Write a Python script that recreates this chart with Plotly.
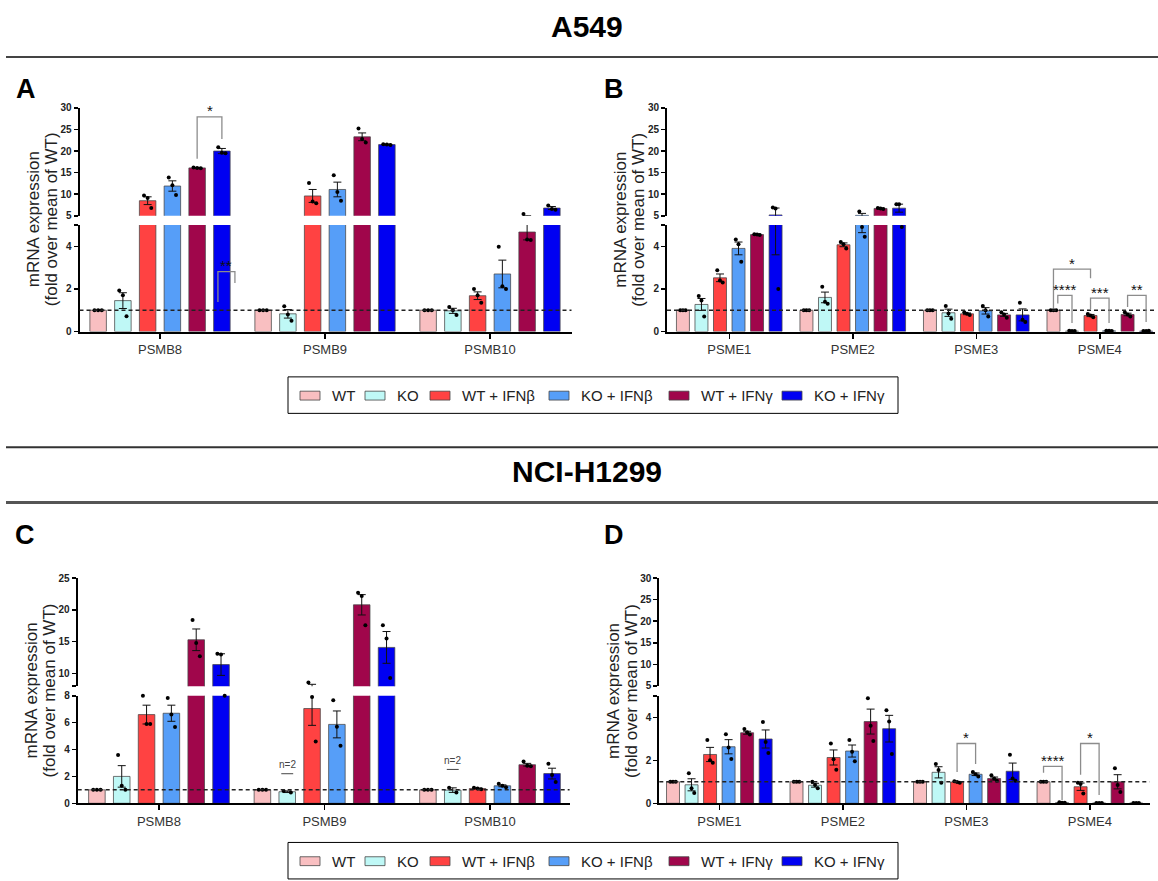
import plotly.graph_objects as go

W, H = 1158, 881
FONT = "Arial, Liberation Sans, Helvetica, sans-serif"

SERIES = ["WT", "KO", "WT + IFNβ", "KO + IFNβ", "WT + IFNγ", "KO + IFNγ"]
COLORS = ["#F9BFC1", "#BFF8F6", "#FF4242", "#569EF8", "#A0064B", "#0000F2"]

# ---------------- Panel A : A549, immunoproteasome ----------------
A_CATS = ["PSMB8", "PSMB9", "PSMB10"]
A_MEAN = [[1, 1, 1], [1.45, 0.83, 0.97], [8.5, 9.6, 1.68],
          [11.9, 11.1, 2.7], [16.1, 23.3, 4.67], [20.0, 21.5, 6.8]]
A_SEM = [[0, 0, 0], [0.37, 0.2, 0.12], [0.9, 1.5, 0.18],
         [1.2, 1.7, 0.65], [0.1, 0.9, 0.37], [0.6, 0.1, 0.35]]
A_PTS = [[[1, 1, 1], [1, 1, 1], [1, 1, 1]],
         [[1.93, 1.7, 0.72], [1.19, 0.8, 0.5], [1.15, 1.0, 0.78]],
         [[9.7, 9.1, 6.8], [12.6, 8.3, 7.9], [2.0, 1.7, 1.35]],
         [[13.85, 12.1, 9.8], [14.4, 10.5, 8.5], [3.98, 2.12, 2.0]],
         [[16.2, 16.1, 16.0], [25.2, 22.8, 22.0], [5.4, 4.32, 4.3]],
         [[20.9, 19.6, 19.5], [21.6, 21.5, 21.4], [7.4, 6.6, 6.4]]]

# ---------------- Panel B : A549, regulators ----------------
B_CATS = ["PSME1", "PSME2", "PSME3", "PSME4"]
B_MEAN = [[1, 1, 1, 1], [1.27, 1.6, 0.88, 0.02], [2.52, 4.07, 0.83, 0.75],
          [3.9, 5.1, 0.97, 0.03], [4.55, 6.7, 0.78, 0.8], [5.2, 6.77, 0.78, 0.02]]
B_SEM = [[0, 0, 0, 0], [0.28, 0.25, 0.17, 0.01], [0.18, 0.09, 0.04, 0.05],
         [0.3, 0.46, 0.15, 0.01], [0.02, 0.06, 0.07, 0.06], [1.6, 0.93, 0.28, 0.01]]
B_PTS = [[[1, 1, 1], [1, 1, 1], [1, 1, 1], [1, 1, 1]],
         [[1.67, 1.45, 0.7], [2.1, 1.4, 1.3], [1.2, 0.85, 0.6], [0.03, 0.02, 0.02]],
         [[2.88, 2.4, 2.3], [4.2, 4.1, 3.9], [0.9, 0.83, 0.77], [0.82, 0.75, 0.67]],
         [[4.32, 4.1, 3.27], [6.0, 4.9, 4.45], [1.2, 1.0, 0.7], [0.04, 0.03, 0.02]],
         [[4.57, 4.55, 4.53], [6.8, 6.7, 6.6], [0.9, 0.8, 0.65], [0.9, 0.8, 0.7]],
         [[6.9, 6.7, 2.0], [7.7, 7.7, 4.9], [1.35, 0.55, 0.45], [0.02, 0.02, 0.03]]]

# ---------------- Panel C : NCI-H1299, immunoproteasome ----------------
C_CATS = ["PSMB8", "PSMB9", "PSMB10"]
C_MEAN = [[1, 1, 1], [2.0, 0.86, 0.98], [6.6, 7.05, 1.1],
          [6.7, 5.87, 1.3], [15.3, 20.8, 2.87], [11.4, 14.1, 2.21]]
C_SEM = [[0, 0, 0], [0.8, 0.06, 0.17], [0.7, 1.25, 0.03],
         [0.6, 1.0, 0.07], [1.7, 1.6, 0.1], [1.7, 2.5, 0.4]]
C_PTS = [[[1, 1, 1], [1, 1, 1], [1, 1, 1]],
         [[3.6, 1.3, 1.0], [0.92, 0.8], [1.15, 0.8]],
         [[8.0, 5.9, 5.9], [8.6, 7.9, 4.6], [1.15, 1.1, 1.05]],
         [[7.83, 6.6, 5.68], [7.67, 5.7, 4.29], [1.45, 1.3, 1.2]],
         [[18.4, 14.8, 12.7], [22.7, 22.2, 17.6], [3.1, 2.8, 2.75]],
         [[13.1, 13.0, 8.0], [17.6, 15.5, 9.3], [2.94, 2.1, 1.59]]]

# ---------------- Panel D : NCI-H1299, regulators ----------------
D_CATS = ["PSME1", "PSME2", "PSME3", "PSME4"]
D_MEAN = [[1, 1, 1, 1], [0.86, 0.84, 1.44, 0.03], [2.27, 2.13, 0.99, 0.77],
          [2.63, 2.43, 1.35, 0.01], [3.28, 3.8, 1.15, 1.0], [2.99, 3.47, 1.49, 0.01]]
D_SEM = [[0, 0, 0, 0], [0.28, 0.09, 0.26, 0.01], [0.33, 0.35, 0.02, 0.17],
         [0.33, 0.28, 0.06, 0.005], [0.07, 0.58, 0.07, 0.33], [0.42, 0.62, 0.38, 0.005]]
D_PTS = [[[1, 1, 1], [1, 1, 1], [1, 1, 1], [1, 1, 1]],
         [[1.4, 0.7, 0.48], [1.0, 0.85, 0.7], [1.83, 1.55, 0.95], [0.05, 0.03, 0.02]],
         [[2.94, 2.0, 1.88], [2.78, 2.05, 1.56], [1.02, 0.99, 0.96], [0.95, 0.9, 0.46]],
         [[3.21, 2.6, 2.06], [2.94, 2.4, 1.95], [1.45, 1.35, 1.25], [0.01, 0.01, 0.01]],
         [[3.45, 3.3, 3.2], [4.89, 3.6, 2.9], [1.3, 1.15, 1.05], [1.63, 0.85, 0.53]],
         [[3.78, 2.85, 2.34], [4.33, 3.8, 2.29], [2.26, 1.15, 1.05], [0.01, 0.01, 0.01]]]

# significance brackets: (group, series_from, dx_from, series_to, dx_to, top, left_bottom, right_bottom, label, upper?)
A_SIG = [(0, 4, 0.0, 5, 0.0, 27.9, 18.2, 22.8, "*", True),
         (0, 5, -0.024, 5, 0.079, 2.81, 1.39, 2.28, "**", False)]
B_SIG = [(3, 0, 0.0, 2, 0.0, 2.93, 1.08, 2.5, "*", False),
         (3, 0, 0.035, 1, 0.0, 1.70, 1.32, 0.4, "****", False),
         (3, 2, 0.0, 3, 0.0, 1.57, 1.05, 0.4, "***", False),
         (3, 4, 0.0, 5, 0.0, 1.70, 1.15, 0.45, "**", False)]
C_SIG = []
D_SIG = [(2, 2, 0.0, 3, 0.0, 2.78, 1.45, 1.83, "*", False),
         (3, 0, 0.0, 1, 0.0, 1.72, 1.42, 0.15, "****", False),
         (3, 2, 0.0, 3, 0.0, 2.78, 1.33, 0.38, "*", False)]
# "n=2" notes in panel C: (group, series, line value, text value)
C_NOTES = [(1, 1, 2.2, 2.87), (2, 1, 2.52, 3.18)]

YLABEL1 = "mRNA expression"
YLABEL2 = "(fold over mean of WT)"

# ---------------- layout geometry (pixels) ----------------
PANELS = [
    dict(letter="A", cats=A_CATS, mean=A_MEAN, sem=A_SEM, pts=A_PTS, sig=A_SIG, notes=[],
         xpx=(79.5, 571.5), xr=(-0.488, 2.494), bw=0.10,
         lo_px=(330, 222), lo_r=(0, 5), lo_t=[0, 2, 4, 5], lo_l=["0", "2", "4", ""],
         hi_px=(212.7, 103.3), hi_r=(5, 30), hi_t=[5, 10, 15, 20, 25, 30],
         hi_l=["5", "10", "15", "20", "25", "30"], letter_xy=(26, 84)),
    dict(letter="B", cats=B_CATS, mean=B_MEAN, sem=B_SEM, pts=B_PTS, sig=B_SIG, notes=[],
         xpx=(667, 1155), xr=(-0.504, 3.447), bw=0.105,
         lo_px=(330, 222), lo_r=(0, 5), lo_t=[0, 2, 4, 5], lo_l=["0", "2", "4", ""],
         hi_px=(212.7, 103.3), hi_r=(5, 30), hi_t=[5, 10, 15, 20, 25, 30],
         hi_l=["5", "10", "15", "20", "25", "30"], letter_xy=(614, 84)),
    dict(letter="C", cats=C_CATS, mean=C_MEAN, sem=C_SEM, pts=C_PTS, sig=C_SIG, notes=C_NOTES,
         xpx=(77.7, 569.6), xr=(-0.491, 2.481), bw=0.10,
         lo_px=(808.3, 699.3), lo_r=(0, 8), lo_t=[0, 2, 4, 6, 8], lo_l=["0", "2", "4", "6", "8"],
         hi_px=(689.6, 580), hi_r=(8, 25), hi_t=[8, 10, 15, 20, 25],
         hi_l=["", "10", "15", "20", "25"], letter_xy=(25, 536)),
    dict(letter="D", cats=D_CATS, mean=D_MEAN, sem=D_SEM, pts=D_PTS, sig=D_SIG, notes=[],
         xpx=(659.3, 1149.5), xr=(-0.486, 3.483), bw=0.105,
         lo_px=(808.3, 699.3), lo_r=(0, 5), lo_t=[0, 2, 4, 5], lo_l=["0", "2", "4", ""],
         hi_px=(689.3, 580), hi_r=(5, 30), hi_t=[5, 10, 15, 20, 25, 30],
         hi_l=["5", "10", "15", "20", "25", "30"], letter_xy=(614, 536)),
]
STEP = 0.15  # distance between neighbouring bars, in category units


def px(x):
    return x / W


def py(y):
    return 1 - y / H


fig = go.Figure()
shapes, annos = [], []

for k, P in enumerate(PANELS):
    xid = "" if k == 0 else str(k + 1)
    xname = "x" + xid
    lo_i, hi_i = 2 * k + 1, 2 * k + 2
    yl = "y" if lo_i == 1 else "y%d" % lo_i
    yh = "y%d" % hi_i
    ng = len(P["cats"])
    split = P["lo_r"][1]

    def bx(g, s):
        return g + (s - 2.5) * STEP

    for s in range(6):
        xs = [bx(g, s) for g in range(ng)]
        for ya in (yl, yh):
            fig.add_trace(go.Bar(
                x=xs, y=P["mean"][s], width=P["bw"], xaxis=xname, yaxis=ya,
                marker=dict(color=COLORS[s], line=dict(color="rgba(70,70,70,0.75)", width=1)),
                error_y=dict(type="data", array=P["sem"][s], color="#111", thickness=1, width=4),
                showlegend=False, hoverinfo="skip", name=SERIES[s]))
        lo_x, lo_y, hi_x, hi_y = [], [], [], []
        for g in range(ng):
            vals = P["pts"][s][g]
            n = len(vals)
            offs = [(-0.022 + 0.044 * i / (n - 1)) if n > 1 else 0 for i in range(n)]
            for o, v in zip(offs, vals):
                if v <= split:
                    lo_x.append(bx(g, s) + o)
                    lo_y.append(v)
                else:
                    hi_x.append(bx(g, s) + o)
                    hi_y.append(v)
        for ya, xx, yy in ((yl, lo_x, lo_y), (yh, hi_x, hi_y)):
            fig.add_trace(go.Scatter(
                x=xx, y=yy, mode="markers", xaxis=xname, yaxis=ya, cliponaxis=False,
                marker=dict(color="black", size=4), showlegend=False, hoverinfo="skip"))

    axis_common = dict(showgrid=False, zeroline=False, showline=True, linecolor="black",
                       linewidth=2, ticks="outside", tickcolor="black", tickwidth=1.5,
                       fixedrange=True)
    fig.update_layout(**{
        "xaxis" + xid: dict(axis_common, domain=[px(P["xpx"][0]), px(P["xpx"][1])],
                            range=list(P["xr"]), anchor=yl, tickmode="array",
                            tickvals=list(range(ng)), ticktext=P["cats"], ticklen=5,
                            tickfont=dict(family=FONT, size=13, color="#333")),
        "yaxis" + ("" if lo_i == 1 else str(lo_i)): dict(
            axis_common, domain=[py(P["lo_px"][0]), py(P["lo_px"][1])],
            range=list(P["lo_r"]), anchor=xname, tickmode="array",
            tickvals=P["lo_t"], ticktext=P["lo_l"], ticklen=4,
            tickfont=dict(family=FONT, size=10, color="#222", weight="bold")),
        "yaxis" + str(hi_i): dict(
            axis_common, domain=[py(P["hi_px"][0]), py(P["hi_px"][1])],
            range=list(P["hi_r"]), anchor=xname, tickmode="array",
            tickvals=P["hi_t"], ticktext=P["hi_l"], ticklen=4,
            tickfont=dict(family=FONT, size=10, color="#222", weight="bold")),
    })

    # dashed reference line at 1
    shapes.append(dict(type="line", xref=xname + " domain", x0=0, x1=1, yref=yl, y0=1, y1=1,
                       line=dict(color="#222", width=1.5, dash="4px,3px"), layer="above"))

    # significance brackets
    for (g, s1, d1, s2, d2, top, lb, rb, lab, up) in P["sig"]:
        ya = yh if up else yl
        xa_, xb_ = bx(g, s1) + d1, bx(g, s2) + d2
        shapes.append(dict(type="path", xref=xname, yref=ya,
                           path="M %f,%f L %f,%f L %f,%f L %f,%f" % (xa_, lb, xa_, top, xb_, top, xb_, rb),
                           line=dict(color="#8c8c8c", width=1.3)))
        annos.append(dict(xref=xname, yref=ya, x=(xa_ + xb_) / 2, y=top, text=lab, showarrow=False,
                          yanchor="middle", xanchor="center", yshift=6,
                          font=dict(family=FONT, size=15, color="#111")))

    for (g, s, lv, tv) in P["notes"]:
        shapes.append(dict(type="line", xref=xname, yref=yl, x0=bx(g, s) - 0.036, x1=bx(g, s) + 0.036,
                           y0=lv, y1=lv, line=dict(color="#444", width=1)))
        annos.append(dict(xref=xname, yref=yl, x=bx(g, s), y=tv, text="n=2", showarrow=False,
                          font=dict(family=FONT, size=10, color="#444")))

    # y titles (two lines)
    ymid = (P["lo_px"][0] + P["hi_px"][1]) / 2
    for off, txt in ((-46, YLABEL1), (-28, YLABEL2)):
        annos.append(dict(xref="paper", yref="paper", x=px(P["xpx"][0] + off), y=py(ymid),
                          text=txt, textangle=-90, showarrow=False, xanchor="center",
                          yanchor="middle", font=dict(family=FONT, size=17, color="#222")))
    # panel letter
    lx, ly = P["letter_xy"]
    annos.append(dict(xref="paper", yref="paper", x=px(lx), y=py(ly), text="<b>%s</b>" % P["letter"],
                      showarrow=False, xanchor="center", yanchor="middle",
                      font=dict(family=FONT, size=27, color="black")))

# section titles and rules
for txt, yc in (("A549", 21), ("NCI-H1299", 472)):
    annos.append(dict(xref="paper", yref="paper", x=px(587), y=py(yc), text="<b>%s</b>" % txt,
                      showarrow=False, xanchor="center", yanchor="middle",
                      font=dict(family=FONT, size=30, color="black")))
for yy, wd, col in ((51.7, 2, "#444"), (447.3, 2, "#333"), (503.3, 3, "#555")):
    shapes.append(dict(type="line", xref="paper", yref="paper", x0=px(6), x1=1, y0=py(yy), y1=py(yy),
                       line=dict(color=col, width=wd)))

# legends (drawn as keys)
LEG_SWATCH_X = [300, 365, 430, 549, 669, 782]
for top, yc in ((376, 395), (848, 867)):
    shapes.append(dict(type="rect", xref="paper", yref="paper", x0=px(288), x1=px(898),
                       y0=py(top + 37), y1=py(top), line=dict(color="black", width=1)))
    for s in range(6):
        x0 = LEG_SWATCH_X[s]
        shapes.append(dict(type="rect", xref="paper", yref="paper", x0=px(x0), x1=px(x0 + 20),
                           y0=py(yc + 4.5), y1=py(yc - 4.5), fillcolor=COLORS[s],
                           line=dict(color="rgba(70,70,70,0.8)", width=1)))
        annos.append(dict(xref="paper", yref="paper", x=px(x0 + 30), y=py(yc), text=SERIES[s],
                          showarrow=False, xanchor="left", yanchor="middle",
                          font=dict(family=FONT, size=15, color="#222")))

fig.update_layout(width=W, height=H, margin=dict(l=0, r=0, t=0, b=0),
                  paper_bgcolor="white", plot_bgcolor="white", barmode="overlay",
                  shapes=shapes, annotations=annos, showlegend=False,
                  font=dict(family=FONT))
fig.write_html("out.html", config={"displayModeBar": False, "staticPlot": True},
               post_script="document.body.style.margin='0';document.body.style.overflow='hidden';")
